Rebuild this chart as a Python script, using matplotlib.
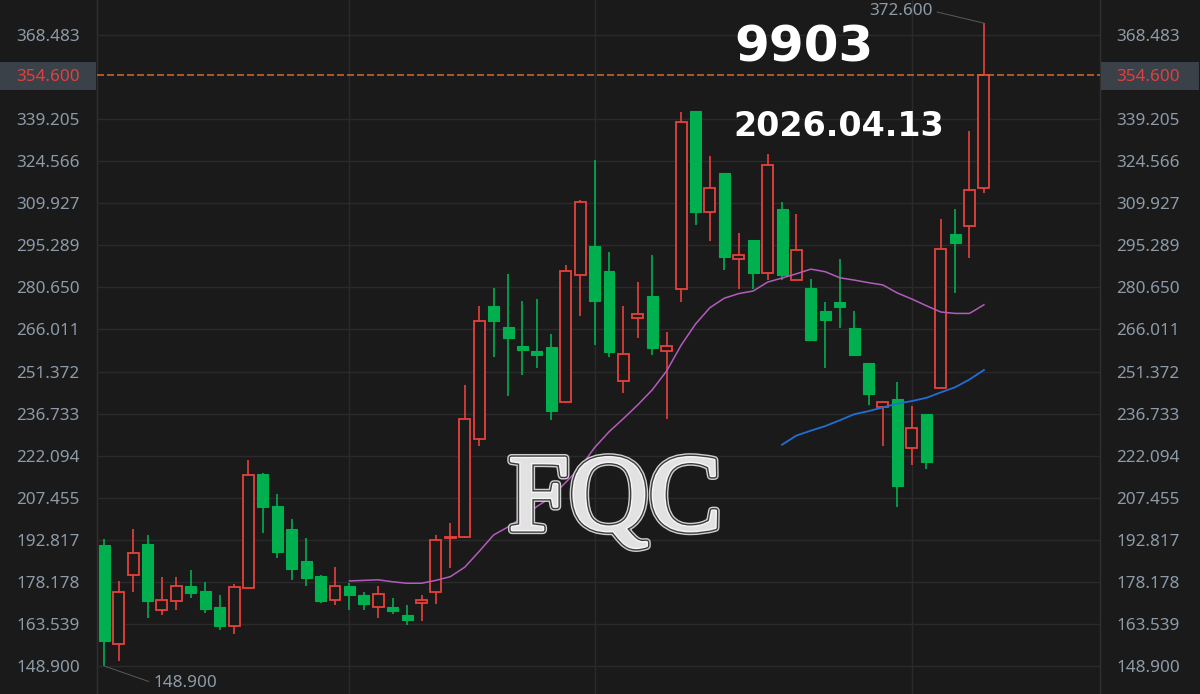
import matplotlib

matplotlib.use("Agg")
import matplotlib.patheffects as pe
import matplotlib.pyplot as plt
import matplotlib.transforms as mtransforms
import numpy as np
from matplotlib.patches import Rectangle

# daily candles, oldest first
OPENS = [
    191.0, 156.5, 180.4, 191.4, 168.4, 171.6, 176.9, 175.1, 169.6, 162.9,
    176.2, 215.8, 204.5, 196.5, 185.5, 180.1, 171.9, 176.8, 173.7, 169.3,
    169.6, 166.7, 170.7, 174.8, 193.6, 193.7, 227.8, 274.2, 267.0, 260.3,
    258.4, 259.8, 240.7, 285.1, 295.0, 286.2, 248.1, 270.1, 277.5, 258.6,
    280.1, 342.2, 307.0, 320.5, 290.7, 297.1, 285.6, 308.1, 283.3, 280.3,
    272.5, 275.4, 266.6, 254.3, 239.0, 241.9, 224.9, 236.5, 245.6, 299.4,
    302.0, 315.3,
]
HIGHS = [
    193.0, 178.6, 196.5, 194.6, 179.7, 179.7, 182.3, 178.3, 173.7, 177.4,
    220.6, 216.2, 208.7, 200.2, 193.3, 180.5, 183.3, 177.7, 174.8, 176.8,
    172.5, 170.0, 173.7, 194.5, 198.8, 246.7, 274.2, 280.4, 285.2, 275.8,
    276.6, 264.4, 288.5, 310.9, 325.1, 293.1, 274.2, 282.6, 291.8, 265.2,
    341.7, 342.2, 326.3, 320.5, 299.5, 297.1, 326.9, 310.3, 306.3, 283.5,
    275.4, 290.5, 272.5, 254.3, 241.1, 247.9, 239.4, 236.5, 304.6, 308.1,
    335.0, 372.6,
]
LOWS = [
    148.9, 150.5, 174.7, 165.6, 166.5, 168.4, 172.4, 167.4, 161.4, 160.1,
    176.2, 195.3, 186.6, 178.9, 176.6, 171.0, 170.2, 168.3, 168.3, 165.6,
    167.0, 163.3, 164.7, 170.5, 182.9, 193.5, 225.5, 256.4, 243.0, 250.3,
    252.5, 234.4, 240.7, 270.8, 260.7, 256.4, 244.0, 263.1, 257.1, 235.0,
    275.4, 302.4, 296.8, 286.7, 280.1, 280.1, 283.2, 283.2, 283.3, 262.4,
    252.6, 266.4, 256.9, 239.6, 225.3, 204.3, 219.0, 217.6, 245.6, 278.7,
    291.0, 313.6,
]
CLOSES = [
    157.5, 174.5, 188.1, 171.5, 171.7, 176.8, 174.3, 168.8, 162.9, 176.3,
    215.5, 204.3, 188.5, 182.6, 179.5, 171.4, 176.8, 173.5, 170.5, 174.0,
    168.2, 165.0, 171.7, 192.7, 193.8, 234.7, 268.8, 269.0, 263.2, 259.0,
    257.1, 237.8, 286.2, 310.3, 276.0, 258.1, 257.4, 271.5, 259.6, 260.2,
    338.1, 307.0, 315.3, 291.4, 291.9, 285.6, 323.1, 285.0, 293.5, 262.4,
    269.3, 273.7, 257.1, 243.6, 240.6, 211.6, 231.8, 219.9, 293.9, 296.0,
    314.7, 354.6,
]

# moving-average lines
MA_SHORT_START = 17
MA_SHORT = [
    178.5, 178.7, 178.9, 178.2, 177.7, 177.7, 178.7, 180.0, 183.3, 188.8,
    194.5, 197.3, 200.6, 204.4, 207.7, 212.8, 218.0, 224.9, 230.4, 235.0,
    239.8, 245.0, 251.6, 260.5, 267.9, 273.6, 276.9, 278.5, 279.4, 282.5,
    283.9, 285.4, 287.0, 286.1, 284.0, 283.2, 282.3, 281.5, 278.7, 276.6,
    274.3, 272.1, 271.6, 271.6, 274.6,
]
MA_LONG_START = 47
MA_LONG = [
    225.9, 229.1, 230.8, 232.4, 234.4, 236.5, 237.6, 238.9, 240.2, 241.1,
    242.2, 244.1, 245.9, 248.6, 251.9,
]

TICK_LABELS = [
    "148.900", "163.539", "178.178", "192.817", "207.455", "222.094", "236.733",
    "251.372", "266.011", "280.650", "295.289", "309.927", "324.566", "339.205",
    "368.483",
]
LAST_PRICE = 354.600
MONTH_BREAKS = [17, 34, 56]

TITLE = "9903"
DATE_TEXT = "2026.04.13"
WATERMARK = "FQC"

BG = "#1a1a1a"
GRID = "#2a2a2a"
UP = "#e8413c"
DOWN = "#00b04f"
TXT = "#8d9aa8"


def main() -> None:
    W, H = 1200, 694
    fig = plt.figure(figsize=(W / 100, H / 100), dpi=100, facecolor=BG)
    ax = fig.add_axes([97 / W, 0, 1003 / W, 1])
    ax.set_facecolor(BG)
    ax.set_xlim(-0.506, 69.05)
    ax.set_ylim(139.16, 380.66)
    ax.set_xticks([])
    ax.set_yticks([])
    for side in ("top", "bottom"):
        ax.spines[side].set_visible(False)
    for side in ("left", "right"):
        ax.spines[side].set_color("#303030")
        ax.spines[side].set_linewidth(1.0)

    tick_vals = [float(t) for t in TICK_LABELS]
    for v in tick_vals:
        ax.axhline(v, color=GRID, lw=1.0, zorder=0)
    for xb in MONTH_BREAKS:
        ax.axvline(xb, color=GRID, lw=1.0, zorder=0)

    o = np.array(OPENS)
    h = np.array(HIGHS)
    lo = np.array(LOWS)
    c = np.array(CLOSES)
    x = np.arange(len(o))
    up = c >= o
    colors = np.where(up, UP, DOWN)

    ax.vlines(x, lo, h, colors=colors, lw=1.2, zorder=2)
    body_lo = np.minimum(o, c)
    body_h = np.maximum(np.abs(c - o), 0.3)
    ax.bar(x[up], body_h[up], bottom=body_lo[up], width=0.76,
           facecolor=BG, edgecolor=UP, linewidth=1.3, zorder=3)
    ax.bar(x[~up], body_h[~up], bottom=body_lo[~up], width=0.76,
           facecolor=DOWN, edgecolor=DOWN, linewidth=0.8, zorder=3)

    xs = np.arange(MA_SHORT_START, MA_SHORT_START + len(MA_SHORT))
    ax.plot(xs, MA_SHORT, color="#b25cbc", lw=1.1, zorder=4)
    xl = np.arange(MA_LONG_START, MA_LONG_START + len(MA_LONG))
    ax.plot(xl, MA_LONG, color="#1f6fd6", lw=1.3, zorder=4)

    ax.axhline(LAST_PRICE, color="#c8642a", lw=1.2, ls=(0, (4.2, 1.8)), zorder=5)

    # axis labels on both sides, sitting a touch below their grid line
    trans = mtransforms.blended_transform_factory(fig.transFigure, ax.transData)
    trans = trans + mtransforms.ScaledTranslation(0, -2 / 100, fig.dpi_scale_trans)
    for lab, v in zip(TICK_LABELS, tick_vals):
        for fx in (16 / W, 1116 / W):
            fig.text(fx, v, lab, transform=trans, ha="left", va="center",
                     fontsize=12.3, family="Noto Sans", color=TXT)

    # last-price tags
    y_lp = 1 - 76 / H
    for x0, wd in ((0, 96), (1101, 98)):
        fig.patches.append(Rectangle((x0 / W, y_lp - 14 / H), wd / W, 28 / H,
                                     transform=fig.transFigure, facecolor="#3b4148",
                                     edgecolor="none", zorder=1))
        fig.text((x0 + 16) / W if x0 == 0 else 1116 / W, y_lp - 1 / H,
                 f"{LAST_PRICE:.3f}", ha="left", va="center", fontsize=12.3,
                 family="Noto Sans", color="#e04040", zorder=2)

    # high / low markers
    imax = int(np.argmax(h))
    imin = int(np.argmin(lo))
    ax.annotate(f"{h[imax]:.3f}", xy=(imax, h[imax]), xytext=(933, H - 11),
                textcoords="figure pixels", ha="right", va="center",
                fontsize=12.3, family="Noto Sans", color=TXT,
                arrowprops=dict(arrowstyle="-", color="#5a5a5a", lw=0.7,
                                relpos=(1, 0.5), shrinkA=1, shrinkB=0))
    ax.annotate(f"{lo[imin]:.3f}", xy=(imin, lo[imin]), xytext=(153, H - 683),
                textcoords="figure pixels", ha="left", va="center",
                fontsize=12.3, family="Noto Sans", color=TXT,
                arrowprops=dict(arrowstyle="-", color="#5a5a5a", lw=0.7,
                                relpos=(0, 0.5), shrinkA=1, shrinkB=0))

    fig.text(804 / W, 1 - 48 / H, TITLE, ha="center", va="center",
             fontsize=36, fontweight="bold", family="DejaVu Sans", color="white")
    fig.text(839 / W, 1 - 126 / H, DATE_TEXT, ha="center", va="center",
             fontsize=24, fontweight="bold", family="DejaVu Sans", color="white")

    fig.text(615 / W, 1 - 530 / H, WATERMARK, ha="center", va="baseline",
             fontsize=79, family="Liberation Serif", color="#e2e2e2", zorder=6,
             path_effects=[pe.Stroke(linewidth=6, foreground="#cfcfcf"),
                           pe.Stroke(linewidth=4, foreground="#3c3c3c"),
                           pe.Stroke(linewidth=2, foreground="#f6f6f6"),
                           pe.Normal()])

    fig.savefig("out.png", dpi=100, facecolor=BG)
    plt.close(fig)


if __name__ == "__main__":
    main()
